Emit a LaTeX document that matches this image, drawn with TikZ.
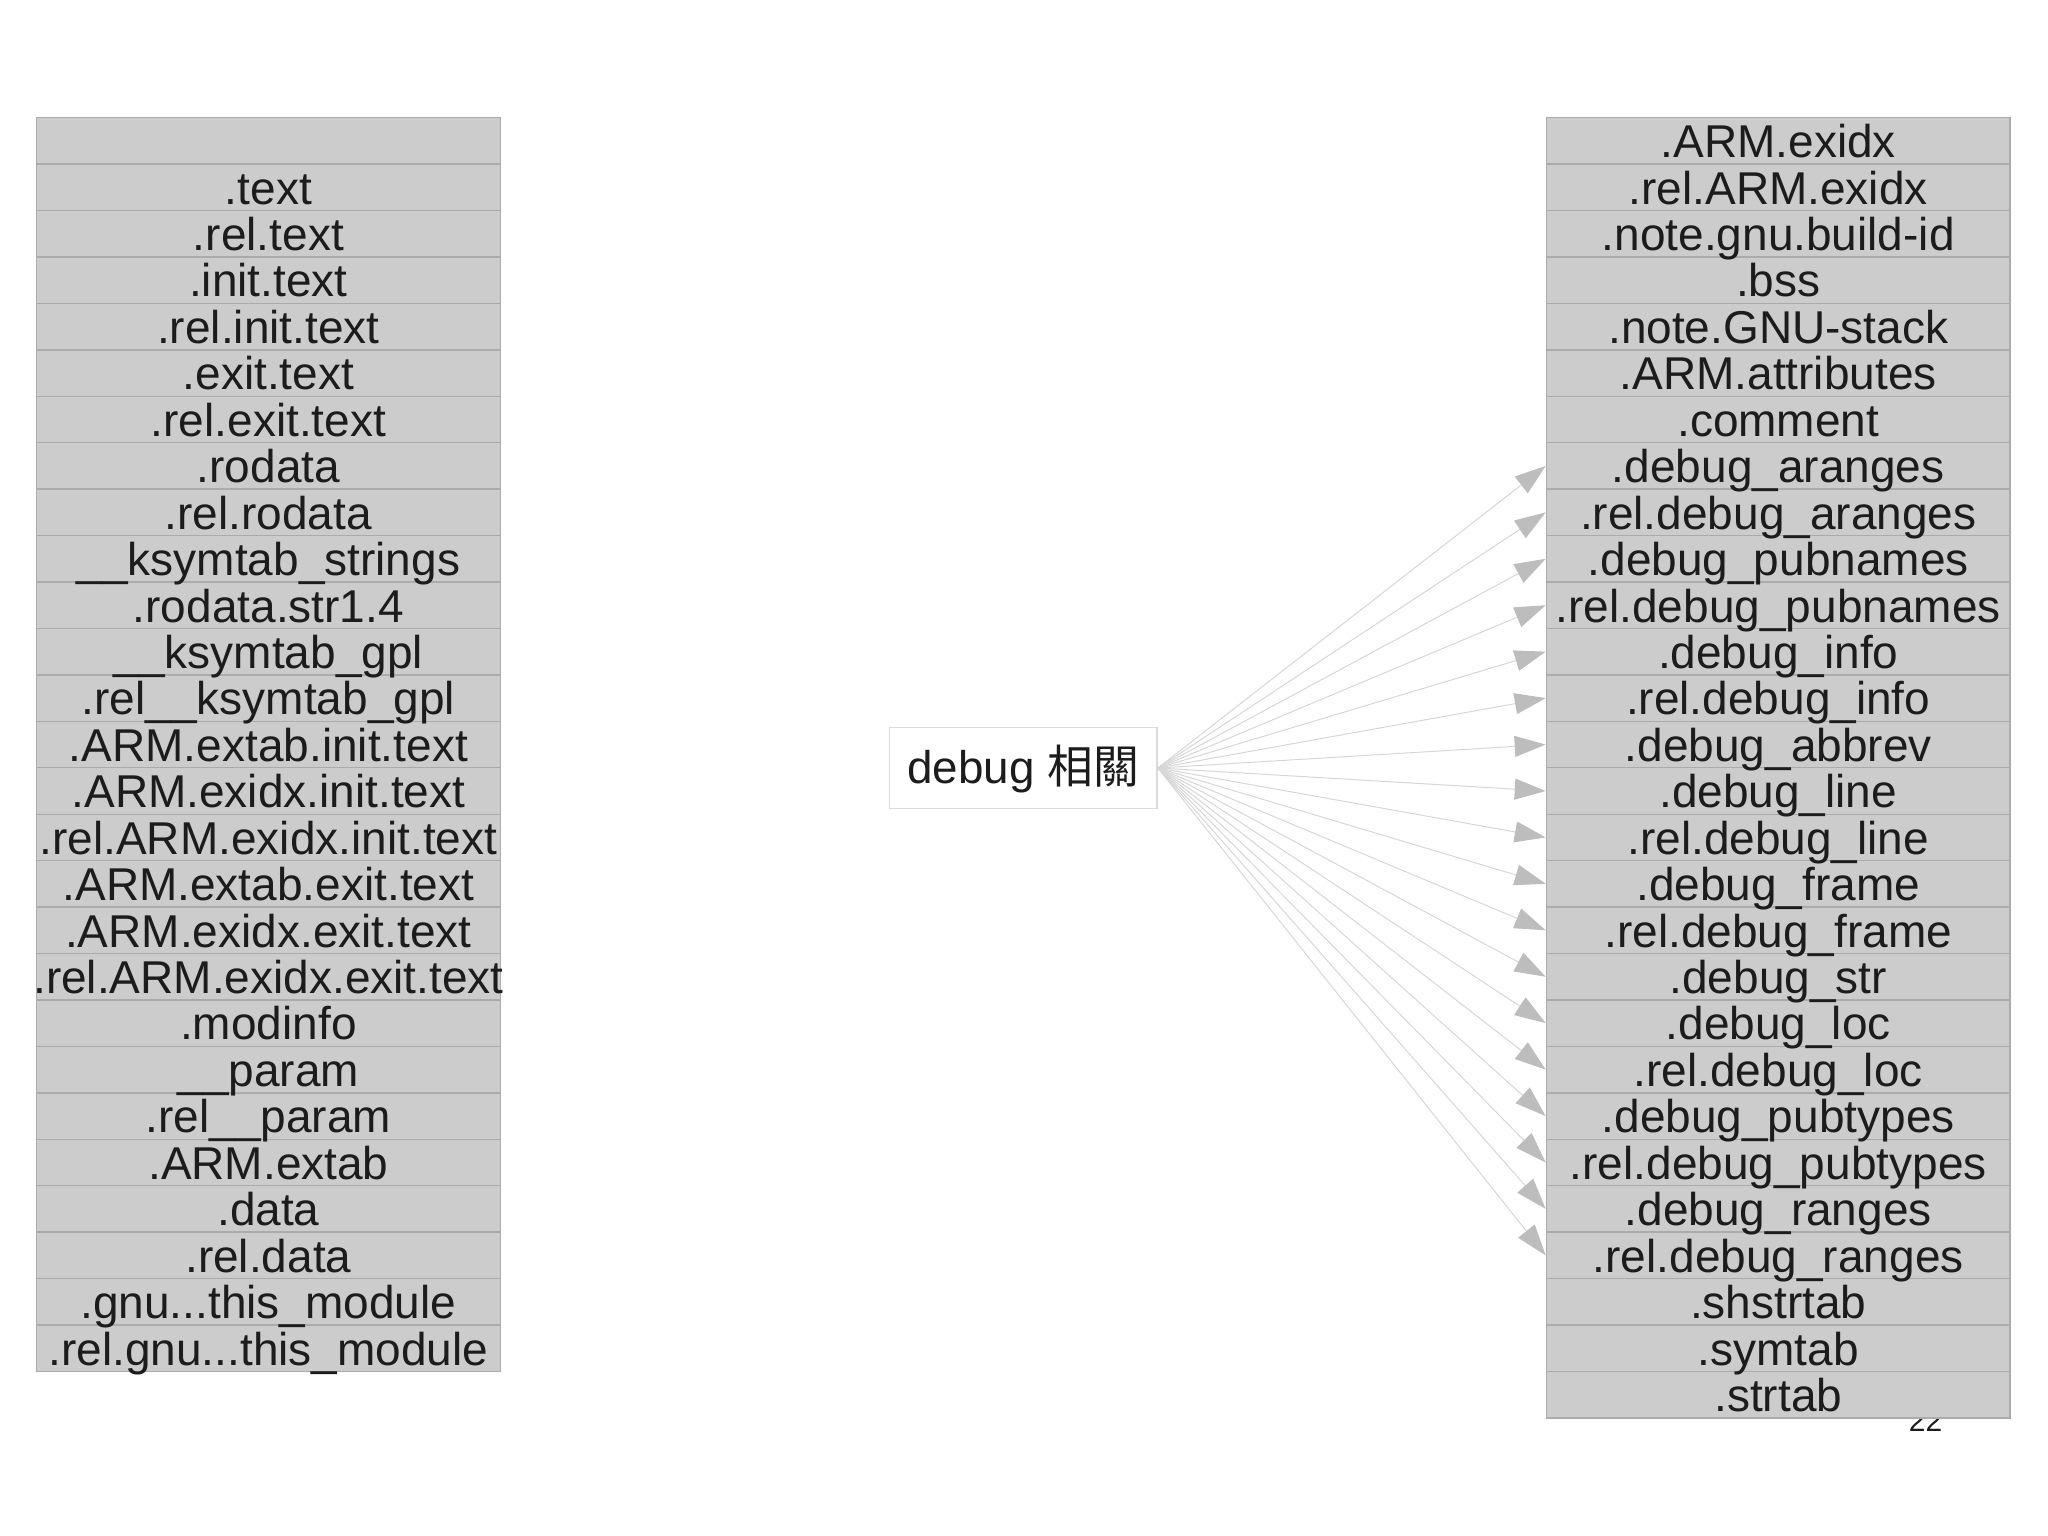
\documentclass[tikz,border=0pt]{standalone}
\usepackage{fontspec}
\setmainfont{Liberation Sans}
\newfontfamily\cjkfont{Noto Sans CJK TC}
\usetikzlibrary{arrows.meta}
\definecolor{cellfill}{HTML}{CCCCCC}
\definecolor{cellborder}{HTML}{ABABAB}
\definecolor{txt}{HTML}{1C1C1C}
\definecolor{arrline}{HTML}{D6D6D6}
\definecolor{arrhead}{HTML}{BDBDBD}
\definecolor{boxborder}{HTML}{DADADA}
\tikzset{
  cell/.style={draw=cellborder, fill=cellfill, line width=0.7pt, inner sep=0pt,
    minimum width=231.8pt, minimum height=23.22pt,
    text height=16.8pt, text depth=0pt, text=txt,
    font=\fontsize{23}{27}\selectfont},
  centerbox/.style={draw=boxborder, fill=white, line width=0.7pt, inner sep=0pt,
    minimum width=133.85pt, minimum height=40.5pt,
    text height=15.3pt, text depth=0pt, text=txt,
    font=\fontsize{22.9}{27}\selectfont},
  pagenum/.style={text=txt, inner sep=0pt, anchor=base, font=\fontsize{15}{18}\selectfont},
  arr/.style={draw=arrline, line width=0.5pt,
    -{Triangle[length=15.5pt,width=10.5pt,color=arrhead]}}
}
\newcommand\lcell[2]{\node[cell] (L#1) at (268.4,{140.82+46.44*#1}) {\makebox[0pt][c]{#2}};}
\newcommand\rcell[2]{\node[cell] (R#1) at (1778.2,{140.82+46.44*#1}) {\makebox[0pt][c]{#2}};}
\begin{document}
\begin{tikzpicture}[x=0.5pt,y=-0.5pt]
\useasboundingbox (0,0) rectangle (2048,1535);
\node[pagenum] (pg) at (1925.5,1431) {22};
% left column (drawn bottom-up so descenders stay visible)
\lcell{26}{.rel.gnu...this\_module}
\lcell{25}{.gnu...this\_module}
\lcell{24}{.rel.data}
\lcell{23}{.data}
\lcell{22}{.ARM.extab}
\lcell{21}{.rel\_\_param}
\lcell{20}{\_\_param}
\lcell{19}{.modinfo}
\lcell{18}{.rel.ARM.exidx.exit.text}
\lcell{17}{.ARM.exidx.exit.text}
\lcell{16}{.ARM.extab.exit.text}
\lcell{15}{.rel.ARM.exidx.init.text}
\lcell{14}{.ARM.exidx.init.text}
\lcell{13}{.ARM.extab.init.text}
\lcell{12}{.rel\_\_ksymtab\_gpl}
\lcell{11}{\_\_ksymtab\_gpl}
\lcell{10}{.rodata.str1.4}
\lcell{9}{\_\_ksymtab\_strings}
\lcell{8}{.rel.rodata}
\lcell{7}{.rodata}
\lcell{6}{.rel.exit.text}
\lcell{5}{.exit.text}
\lcell{4}{.rel.init.text}
\lcell{3}{.init.text}
\lcell{2}{.rel.text}
\lcell{1}{.text}
\lcell{0}{}
% right column (drawn bottom-up)
\rcell{27}{.strtab}
\rcell{26}{.symtab}
\rcell{25}{.shstrtab}
\rcell{24}{.rel.debug\_ranges}
\rcell{23}{.debug\_ranges}
\rcell{22}{.rel.debug\_pubtypes}
\rcell{21}{.debug\_pubtypes}
\rcell{20}{.rel.debug\_loc}
\rcell{19}{.debug\_loc}
\rcell{18}{.debug\_str}
\rcell{17}{.rel.debug\_frame}
\rcell{16}{.debug\_frame}
\rcell{15}{.rel.debug\_line}
\rcell{14}{.debug\_line}
\rcell{13}{.debug\_abbrev}
\rcell{12}{.rel.debug\_info}
\rcell{11}{.debug\_info}
\rcell{10}{.rel.debug\_pubnames}
\rcell{9}{.debug\_pubnames}
\rcell{8}{.rel.debug\_aranges}
\rcell{7}{.debug\_aranges}
\rcell{6}{.comment}
\rcell{5}{.ARM.attributes}
\rcell{4}{.note.GNU-stack}
\rcell{3}{.bss}
\rcell{2}{.note.gnu.build-id}
\rcell{1}{.rel.ARM.exidx}
\rcell{0}{.ARM.exidx}
% center box
\node[centerbox] (C) at (1023.3,768) {debug {\cjkfont 相關}};
\foreach \k in {7,...,24} {
  \draw[arr] (C.east) -- (R\k.west);
}
\end{tikzpicture}
\end{document}
